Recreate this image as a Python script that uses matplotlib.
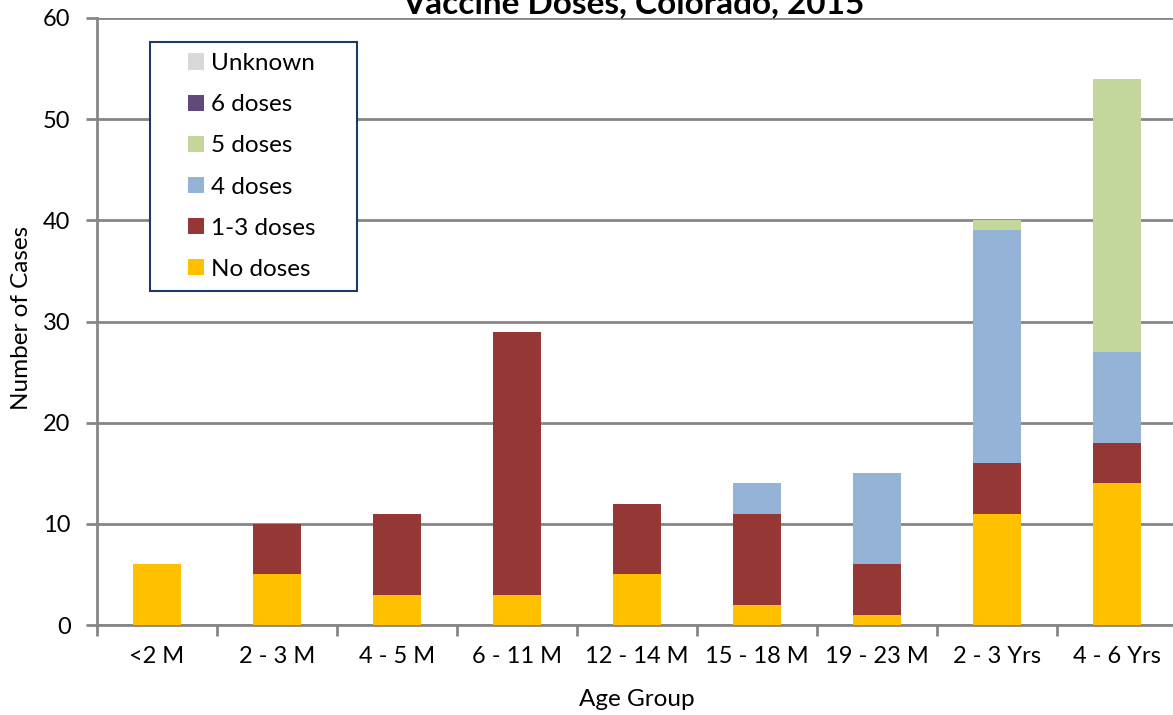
import numpy as np
import matplotlib.pyplot as plt
from matplotlib.patches import Rectangle

plt.rcParams['font.family'] = ['Lato', 'DejaVu Sans']

age_groups = ["<2 M", "2 - 3 M", "4 - 5 M", "6 - 11 M", "12 - 14 M",
              "15 - 18 M", "19 - 23 M", "2 - 3 Yrs", "4 - 6 Yrs"]
no_doses = [6, 5, 3, 3, 5, 2, 1, 11, 14]
doses_1_3 = [0, 5, 8, 26, 7, 9, 5, 5, 4]
doses_4 = [0, 0, 0, 0, 0, 3, 9, 23, 9]
doses_5 = [0, 0, 0, 0, 0, 0, 0, 1, 27]
doses_6 = [0, 0, 0, 0, 0, 0, 0, 0, 0]
unknown = [0, 0, 0, 0, 0, 0, 0, 0, 0]

series = [("No doses", no_doses, "#FFC000"),
          ("1-3 doses", doses_1_3, "#953735"),
          ("4 doses", doses_4, "#95B3D7"),
          ("5 doses", doses_5, "#C3D69B"),
          ("6 doses", doses_6, "#604A7B"),
          ("Unknown", unknown, "#D9D9D9")]

W, H = 1173, 715
fig = plt.figure(figsize=(W / 100, H / 100), dpi=100)
ax = fig.add_axes([97 / W, 1 - 625 / H, 1080 / W, 607 / H])

x = np.arange(len(age_groups))
bottom = np.zeros(len(age_groups))
handles = []
for name, vals, col in series:
    b = ax.bar(x, vals, width=0.4, bottom=bottom, color=col, label=name, zorder=3)
    handles.append(b)
    bottom += np.array(vals)

ax.set_xlim(-0.5, len(age_groups) - 0.5)
ax.set_ylim(0, 60)
ax.set_yticks(range(0, 61, 10))
ax.yaxis.grid(True, color="#868686", linewidth=2, zorder=0)
ax.set_axisbelow(True)

ax.set_xticks(x)
ax.set_xticklabels(age_groups, fontsize=17)
ax.set_xticks(np.arange(-0.5, len(age_groups), 1), minor=True)
ax.tick_params(axis='x', which='major', length=0, pad=15)
ax.tick_params(axis='x', which='minor', length=8, width=2, color="#868686", direction='out')
ax.tick_params(axis='y', length=8, width=2, color="#868686", labelsize=17, pad=11)

for s in ['top', 'right']:
    ax.spines[s].set_visible(False)
for s in ['left', 'bottom']:
    ax.spines[s].set_color("#868686")
    ax.spines[s].set_linewidth(2)

fig.text(637 / W, 1 - 700 / H, "Age Group", ha='center', va='center', fontsize=17.5)
fig.text(22 / W, 1 - 318 / H, "Number of Cases", ha='center', va='center',
         rotation=90, fontsize=17.5)

fig.text(633 / W, 1 - 13 / H, "Vaccine Doses, Colorado, 2015", ha='center', va='baseline',
         fontsize=24, fontweight='bold')

# legend: frame drawn separately so the wide inner padding can match
ax.add_patch(Rectangle((150 / W, 1 - 291 / H), 207 / W, 249 / H,
                       transform=fig.transFigure, facecolor='white',
                       edgecolor="#1F3864", linewidth=1.5, zorder=4, clip_on=False))
leg = ax.legend(handles=handles[::-1], loc='upper left',
                bbox_to_anchor=(188 / W, 1 - 53 / H), bbox_transform=fig.transFigure,
                borderaxespad=0, borderpad=0, fontsize=17.5, handlelength=0.65,
                handleheight=0.65, handletextpad=0.3, labelspacing=0.83, frameon=False)
leg.set_zorder(5)

fig.savefig("out.png", dpi=100)
